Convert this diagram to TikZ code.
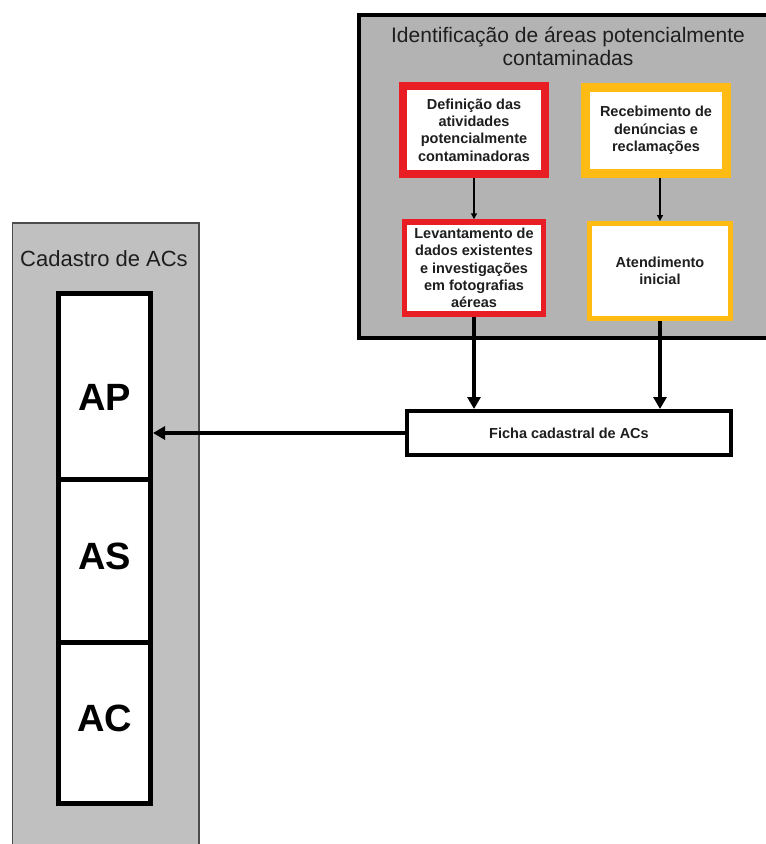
\documentclass[tikz,border=0pt]{standalone}
\usepackage{fontspec}
\setmainfont{Liberation Sans}
\usetikzlibrary{arrows.meta}
\definecolor{panelgray}{RGB}{179,179,179}
\definecolor{sidegray}{RGB}{192,192,192}
\definecolor{redline}{RGB}{232,30,36}
\definecolor{goldline}{RGB}{253,187,20}
\definecolor{inkdark}{RGB}{30,30,30}
\begin{document}
\begin{tikzpicture}[x=1pt,y=-1pt,
  boxtext/.style={font=\fontsize{14.5}{17.4}\selectfont\bfseries, text=inkdark,
    align=center, fill=white, inner sep=0pt},
  redbox/.style={boxtext, draw=redline},
  goldbox/.style={boxtext, draw=goldline},
  cell/.style={draw=black, line width=5, fill=white, minimum width=92, inner sep=0pt},
  celltext/.style={font=\fontsize{38}{40}\selectfont\bfseries},
  titletext/.style={font=\fontsize{21}{23}\selectfont, text=inkdark, align=center},
  thinarrow/.style={line width=1.3, -{Triangle[width=6pt,length=6pt]}},
  thickarrow/.style={line width=4, -{Triangle[width=13pt,length=12pt]}}]
\useasboundingbox (0,0) rectangle (766,844);

% right panel: identification of potentially contaminated areas
\draw[line width=4, fill=panelgray] (359,15) rectangle (780,338);
\node[titletext] (ptitle) at (568,46.5) {Identificação de áreas potencialmente\\contaminadas};

\node[redbox, line width=8, minimum width=142, minimum height=88] (r1) at (474,130)
  {Definição das\\atividades\\potencialmente\\contaminadoras};
\node[goldbox, line width=8.5, minimum width=141, minimum height=86] (y1) at (656,130.5)
  {Recebimento de\\denúncias e\\reclamações};
\node[redbox, line width=5.5, minimum width=139, minimum height=92] (r2) at (474,268)
  {Levantamento de\\dados existentes\\e investigações\\em fotografias\\aéreas};
\node[goldbox, line width=5, minimum width=141, minimum height=95] (y2) at (660,271)
  {Atendimento\\inicial};

% registration form
\node[boxtext, draw=black, line width=4, minimum width=324, minimum height=44] (fi) at (569,433)
  {Ficha cadastral de ACs};

% left panel: register of areas
\draw[line width=1.3, draw=black!70, fill=sidegray] (12.5,223) rectangle (199,860);
\node[titletext] (ltitle) at (104,259) {\fontsize{22}{24}\selectfont Cadastro de ACs};

\node[cell, minimum height=185.5] (ap) at (104.5,386.25) {};
\node[cell, minimum height=163] (as) at (104.5,560.5) {};
\node[cell, minimum height=161.5] (ac) at (104.5,722.75) {};
\node[celltext] (aptext) at (104.5,397) {AP};
\node[celltext] (astext) at (104.5,556) {AS};
\node[celltext] (actext) at (104.5,718.5) {AC};

% connectors
\draw[thinarrow] (r1.south) -- (r2.north);
\draw[thinarrow] (y2.north |- y1.south) -- (y2.north);
\draw[thickarrow] (r2.south) -- (r2.south |- fi.north);
\draw[thickarrow] (y2.south) -- (y2.south |- fi.north);
\draw[thickarrow] (fi.west) -- (fi.west -| ap.east);
\end{tikzpicture}
\end{document}
